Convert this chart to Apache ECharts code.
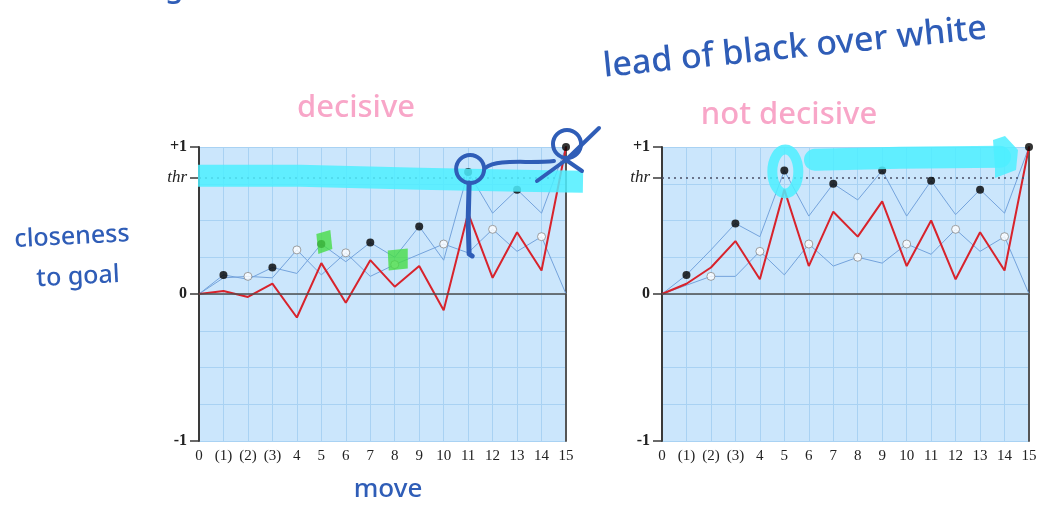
<!DOCTYPE html>
<html>
<head>
<meta charset="utf-8">
<script src="https://cdn.jsdelivr.net/npm/echarts@6/dist/echarts.min.js"></script>
<style>
  html, body { margin: 0; padding: 0; background: #fff; }
  #main { width: 1048px; height: 506px; }
</style>
</head>
<body>
<div id="main"></div>
<script>
  // move labels along the x axis
  const moves = ['0', '(1)', '(2)', '(3)', '4', '5', '6', '7', '8', '9', '10', '11', '12', '13', '14', '15'];
  const thr = 0.79;
  const yTicks = [-1, 0, thr, 1];

  // left chart: decisive
  const decisiveBlack = [0, 0.13, 0.10, 0.18, 0.14, 0.34, 0.22, 0.35, 0.25, 0.46, 0.23, 0.83, 0.55, 0.71, 0.55, 1.0];
  const decisiveWhite = [0, 0.11, 0.12, 0.11, 0.30, 0.13, 0.28, 0.12, 0.20, 0.27, 0.34, 0.28, 0.44, 0.29, 0.39, 0];
  const decisiveLead = [0, 0.02, -0.02, 0.07, -0.16, 0.21, -0.06, 0.23, 0.05, 0.19, -0.11, 0.55, 0.11, 0.42, 0.16, 1.0];

  // right chart: not decisive
  const notDecisiveBlack = [0, 0.13, 0.30, 0.48, 0.39, 0.84, 0.53, 0.75, 0.64, 0.84, 0.53, 0.77, 0.54, 0.71, 0.55, 1.0];
  const notDecisiveWhite = [0, 0.06, 0.12, 0.12, 0.29, 0.13, 0.34, 0.19, 0.25, 0.21, 0.34, 0.27, 0.44, 0.29, 0.39, 0];
  const notDecisiveLead = [0, 0.07, 0.18, 0.36, 0.10, 0.71, 0.19, 0.56, 0.39, 0.63, 0.19, 0.50, 0.10, 0.42, 0.16, 1.0];

  const serif = 'Liberation Serif';
  const thinBlue = '#74a3dc';
  const gridBlue = '#a9d2f3';
  const inkBlue = '#2f5db7';
  const pink = '#f8a6c8';
  const cyan = 'rgba(78, 238, 255, 0.85)';

  // black moves are the odd ones, white the even ones (move 0 has no dot)
  function dots(vals, parity) {
    return vals.map((v, i) => (i > 0 && i % 2 === parity) ? [i, v] : null).filter(d => d);
  }

  function xAxisFor(g) {
    return {
      type: 'category', gridIndex: g, data: moves, boundaryGap: false,
      axisLine: {show: false, onZero: false}, axisTick: {show: false},
      axisLabel: {fontFamily: serif, fontSize: 15, color: '#222', margin: 8},
      splitLine: {show: true, lineStyle: {color: gridBlue, width: 1}}
    };
  }

  function yAxesFor(g) {
    return [
      {
        type: 'value', gridIndex: g, min: -1, max: 1, interval: 0.25,
        axisLine: {show: true, lineStyle: {color: '#3a3a3a', width: 2}},
        axisTick: {show: true, customValues: yTicks, length: 9, lineStyle: {color: '#3a3a3a', width: 1.5}},
        axisLabel: {
          customValues: yTicks, margin: 12,
          fontFamily: serif, fontSize: 16, fontWeight: 'bold', color: '#222',
          formatter: function (v) {
            if (Math.abs(v - thr) < 1e-6) return '{it|thr}';
            return v > 0 ? '+1' : String(v);
          },
          rich: {it: {fontFamily: serif, fontStyle: 'italic', fontWeight: 'normal', fontSize: 17, color: '#222'}}
        },
        splitLine: {show: false}
      },
      {
        // right border of the plot, also carries the quarter grid lines
        type: 'value', gridIndex: g, min: -1, max: 1, interval: 0.25, position: 'right',
        axisLine: {show: true, lineStyle: {color: '#555', width: 2}},
        axisTick: {show: false}, axisLabel: {show: false},
        splitLine: {show: true, lineStyle: {color: gridBlue, width: 1}}
      }
    ];
  }

  function seriesFor(g, black, white, lead) {
    const axes = {xAxisIndex: g, yAxisIndex: g * 2};
    return [
      Object.assign({
        type: 'line', data: black, symbol: 'none', z: 3,
        lineStyle: {color: thinBlue, width: 1},
        markLine: {
          silent: true, symbol: 'none', label: {show: false},
          data: [
            {yAxis: 0, lineStyle: {color: '#4d4d4d', width: 1.5, type: 'solid'}},
            {yAxis: thr, lineStyle: {color: '#4a4f66', width: 1.5, type: [2, 4]}}
          ]
        }
      }, axes),
      Object.assign({type: 'line', data: white, symbol: 'none', z: 3, lineStyle: {color: thinBlue, width: 1}}, axes),
      Object.assign({type: 'line', data: lead, symbol: 'none', z: 4, lineStyle: {color: '#d8232c', width: 2}}, axes),
      Object.assign({type: 'scatter', data: dots(black, 1), symbolSize: 8, z: 6, itemStyle: {color: '#000'}}, axes),
      Object.assign({
        type: 'scatter', data: dots(white, 0), symbolSize: 8, z: 6,
        itemStyle: {color: '#fff', borderColor: '#8a8a8a', borderWidth: 1}
      }, axes)
    ];
  }

  let myChart = echarts.init(document.getElementById('main'));

  let option = {
    animation: false,
    backgroundColor: '#fff',
    grid: [
      {left: 199, top: 147, width: 367, height: 294, show: true, backgroundColor: '#cbe6fc', borderWidth: 0},
      {left: 662, top: 147, width: 367, height: 294, show: true, backgroundColor: '#cbe6fc', borderWidth: 0}
    ],
    xAxis: [xAxisFor(0), xAxisFor(1)],
    yAxis: yAxesFor(0).concat(yAxesFor(1)),
    series: seriesFor(0, decisiveBlack, decisiveWhite, decisiveLead)
      .concat(seriesFor(1, notDecisiveBlack, notDecisiveWhite, notDecisiveLead))
  };
  myChart.setOption(option);

  // hand drawn notes on top of the charts
  function px(g, i, v) {
    return myChart.convertToPixel({xAxisIndex: g, yAxisIndex: g * 2}, [i, v]);
  }
  const hand = 'Noto Sans';
  function note(text, x, y, size, color, rot) {
    return {
      type: 'text', x: x, y: y, rotation: rot || 0, z: 100,
      style: {text: text, fill: color, fontFamily: hand, fontSize: size, fontWeight: 500, align: 'center', verticalAlign: 'middle'}
    };
  }
  function stroke(points, color, width, cap) {
    return {type: 'polyline', z: 90, shape: {points: points}, style: {stroke: color, lineWidth: width, fill: null, lineCap: cap || 'round', lineJoin: 'round'}};
  }

  const c11 = px(0, 11, decisiveBlack[11]);
  const c15 = px(0, 15, decisiveBlack[15]);
  const c5 = px(0, 5, decisiveBlack[5]);
  const c8 = px(0, 8, decisiveWhite[8]);
  const r5 = px(1, 5, notDecisiveBlack[5]);
  const thrL = px(0, 0, thr);
  const thrR = px(1, 15, thr);

  myChart.setOption({
    graphic: [
      note('ng', 165, -12, 30, inkBlue),
      note('lead of black over white', 795, 48, 34, inkBlue, 0.1),
      note('decisive', 356, 108, 31, pink),
      note('not decisive', 789, 115, 31, pink),
      note('closeness', 72, 237, 25, inkBlue, 0.05),
      note('to goal', 78, 277, 25, inkBlue, 0.05),
      note('move', 388, 490, 26, inkBlue),

      // cyan highlight along thr, left chart
      stroke([[thrL[0] - 1, thrL[1] - 2], [300, thrL[1] - 2], [420, thrL[1] + 1], [520, thrL[1] + 3], [583, thrL[1] + 4]], cyan, 22, 'butt'),
      // green marks on moves 5 and 8
      {type: 'polygon', z: 95, shape: {points: [[c5[0] - 5, c5[1] - 10], [c5[0] + 9, c5[1] - 14], [c5[0] + 11, c5[1] + 5], [c5[0] - 3, c5[1] + 10]]}, style: {fill: 'rgba(70, 220, 70, 0.8)'}},
      {type: 'polygon', z: 95, shape: {points: [[c8[0] - 7, c8[1] - 14], [c8[0] + 13, c8[1] - 16], [c8[0] + 13, c8[1] + 4], [c8[0] - 6, c8[1] + 6]]}, style: {fill: 'rgba(70, 220, 70, 0.8)'}},
      // blue circles and strokes, left chart
      {type: 'ellipse', z: 96, shape: {cx: c11[0] + 2, cy: c11[1] - 3, rx: 14, ry: 14}, style: {stroke: inkBlue, lineWidth: 4, fill: null}},
      stroke([[c11[0] + 1, c11[1] + 11], [c11[0], c11[1] + 50], [c11[0] + 1, c11[1] + 82], [c11[0] + 4, c11[1] + 84]], inkBlue, 5),
      {type: 'bezierCurve', z: 96, shape: {x1: c11[0] + 17, y1: c11[1] - 4, cpx1: c11[0] + 30, cpy1: c11[1] - 14, cpx2: c11[0] + 60, cpy2: c11[1] - 8, x2: c15[0] - 12, y2: c15[1] + 14}, style: {stroke: inkBlue, lineWidth: 4, fill: null, lineCap: 'round'}},
      {type: 'ellipse', z: 96, shape: {cx: c15[0] + 1, cy: c15[1] - 3, rx: 14, ry: 14}, style: {stroke: inkBlue, lineWidth: 4, fill: null}},
      stroke([[c15[0] - 29, c15[1] + 34], [c15[0], c15[1] + 13], [c15[0] + 33, c15[1] - 19]], inkBlue, 4),
      stroke([[c15[0], c15[1] + 13], [c15[0] + 16, c15[1] + 24]], inkBlue, 4),

      // cyan loop around move 5 and arrow, right chart
      {type: 'ellipse', z: 90, shape: {cx: r5[0] + 1, cy: r5[1] + 1, rx: 13, ry: 22}, style: {stroke: cyan, lineWidth: 10, fill: null}},
      stroke([[815, thrR[1] - 18], [900, thrR[1] - 20], [1000, thrR[1] - 21]], cyan, 22),
      {type: 'polygon', z: 90, shape: {points: [[993, 140], [1005, 136], [1018, 150], [1016, 170], [995, 178], [995, 168]]}, style: {fill: cyan}}
    ]
  });
</script>
</body>
</html>
